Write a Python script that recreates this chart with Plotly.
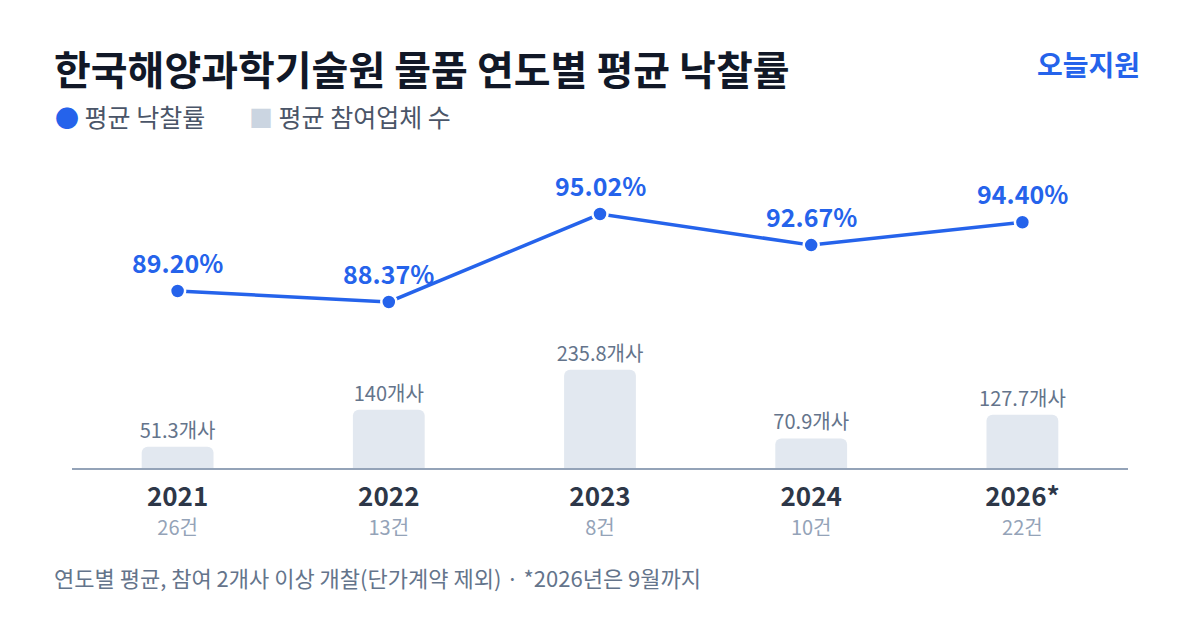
import plotly.graph_objects as go

# data
years = ["2021", "2022", "2023", "2024", "2026*"]
counts = ["26건", "13건", "8건", "10건", "22건"]
bid_rate = [89.20, 88.37, 95.02, 92.67, 94.40]
bidders = [51.3, 140, 235.8, 70.9, 127.7]

FONT = "Noto Sans CJK KR"
BLUE = "#2563eb"

ticktext = [
    f"<span style='font-size:26px'><b>{y}</b></span><br>"
    f"<span style='font-size:20px;color:#94a3b8'>{c}</span>"
    for y, c in zip(years, counts)
]

fig = go.Figure()

fig.add_trace(go.Bar(
    x=years, y=bidders,
    marker=dict(color="#e2e8f0", line=dict(width=0)),
    width=0.34,
    text=[f"{v:g}개사" for v in bidders],
    textposition="outside",
    constraintext="none",
    textfont=dict(family=FONT, size=20, color="#64748b"),
    cliponaxis=False,
    showlegend=False,
    hoverinfo="skip",
))

fig.add_trace(go.Scatter(
    x=years, y=bid_rate, yaxis="y2",
    mode="lines+markers",
    line=dict(color=BLUE, width=3.5),
    marker=dict(size=15, color=BLUE, line=dict(color="white", width=2.5)),
    cliponaxis=False,
    showlegend=False,
))

# point labels (index positions: numeric-looking strings confuse category annotations)
for i, v in enumerate(bid_rate):
    fig.add_annotation(
        x=i, y=v, yref="y2", text=f"<b>{v:.2f}%</b>",
        showarrow=False, yshift=29,
        font=dict(family=FONT, size=25, color=BLUE),
    )

# title, brand, legend, footnote
fig.add_annotation(
    xref="paper", yref="paper", x=-0.019, xanchor="left", y=1.2579, yanchor="middle",
    text="<b>한국해양과학기술원 물품 연도별 평균 낙찰률</b>", showarrow=False,
    font=dict(family=FONT, size=40, color="#111827"),
)
fig.add_annotation(
    xref="paper", yref="paper", x=1.0133, xanchor="right", y=1.2704, yanchor="middle",
    text="<b>오늘지원</b>", showarrow=False,
    font=dict(family=FONT, size=28, color=BLUE),
)
fig.add_annotation(
    xref="paper", yref="paper", x=-0.018, xanchor="left", y=1.1069, yanchor="middle",
    text=f"<span style='color:{BLUE};font-size:24px'>●</span> 평균 낙찰률",
    showarrow=False,
    font=dict(family=FONT, size=25, color="#4a5568"),
)
fig.add_annotation(
    xref="paper", yref="paper", x=0.1657, xanchor="left", y=1.1069, yanchor="middle",
    text="<span style='color:#cbd5e1;font-size:24px'>■</span> 평균 참여업체 수",
    showarrow=False,
    font=dict(family=FONT, size=25, color="#4a5568"),
)
fig.add_annotation(
    xref="paper", yref="paper", x=-0.019, xanchor="left", y=-0.3428, yanchor="middle",
    text="연도별 평균, 참여 2개사 이상 개찰(단가계약 제외) · *2026년은 9월까지",
    showarrow=False,
    font=dict(family=FONT, size=22, color="#64748b"),
)

fig.update_layout(
    width=1200, height=630,
    margin=dict(l=64, r=80, t=142, b=170),
    paper_bgcolor="white", plot_bgcolor="white",
    barcornerradius=6,
    font=dict(family=FONT),
    xaxis=dict(
        type="category", range=[-0.5, 4.5],
        tickvals=years, ticktext=ticktext,
        tickfont=dict(family=FONT, size=22, color="#2d3748"),
        showline=True, linecolor="#94a3b8", linewidth=1.5,
        showgrid=False, ticks="", ticklabelstandoff=10,
    ),
    yaxis=dict(range=[0, 764], visible=False, showgrid=False),
    yaxis2=dict(range=[75.82, 99.86], overlaying="y", visible=False, showgrid=False),
)

fig.write_html("out.html")
